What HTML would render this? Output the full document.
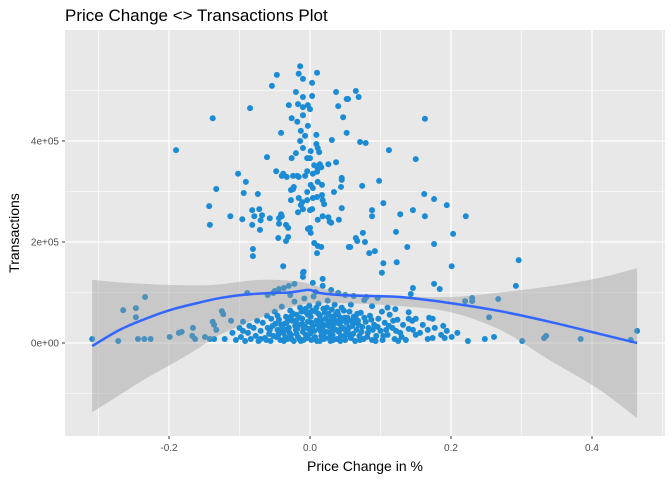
<!DOCTYPE html>
<html><head><meta charset="utf-8">
<style>
html,body{margin:0;padding:0;background:#fff;}
svg text{font-family:"Liberation Sans",sans-serif;}
</style></head>
<body>
<svg id="chart" width="672" height="480" xmlns="http://www.w3.org/2000/svg">
<text x="65" y="21" font-size="17" fill="#000">Price Change &lt;&gt; Transactions Plot</text>
<rect x="65" y="30" width="600" height="406" fill="#e8e8e8"/>
<g id="grid"></g>
<g id="pts"></g>
<g id="band"></g>
<g id="line"></g>
<g id="axes"></g>
<text x="365" y="471" font-size="14" text-anchor="middle" fill="#000">Price Change in %</text>
<text transform="translate(19,233) rotate(-90)" font-size="14" text-anchor="middle" fill="#000">Transactions</text>
</svg>
<script>
const xTicks=[-0.2,0,0.2,0.4];
const xTickLabels=["-0.2","0.0","0.2","0.4"];
const xMinor=[-0.3,-0.1,0.1,0.3,0.5];
const yTicks=[0,200000,400000];
const yTickLabels=["0e+00","2e+05","4e+05"];
const yMinor=[-100000,100000,300000,500000];
// scatter points: [price change, transactions in thousands]
const pointX=[];
const pointY=[];
const pointsK=[
[-0.014,548],[0.010,535],[-0.047,531],[-0.016,533],[-0.010,523],[0.003,515],[-0.054,509],[-0.020,497],[-0.010,487],[0.003,489],
[0.037,497],[0.052,483],[-0.030,471],[-0.017,473],[-0.010,467],[-0.003,471],[0,463],[0.040,469],[-0.085,465],[-0.138,445],
[-0.026,445],[-0.010,451],[-0.018,438],[0.047,447],[-0.003,430],[0.052,416],[-0.041,416],[-0.013,420],[-0.007,410],[0.009,412],
[-0.014,400],[0.031,402],[0.009,394],[0.011,386],[0.013,378],[-0.190,382],[-0.010,386],[0.001,380],[-0.020,376],[-0.026,366],
[-0.061,368],[-0.004,366],[0,366],[0.037,358],[0.026,354],[0.014,354],[0.016,348],[0.006,352],[-0.048,340],[-0.102,335],
[-0.038,335],[-0.040,331],[-0.033,329],[-0.024,331],[-0.016,329],[-0.018,331],[-0.004,340],[0.004,335],[0.010,339],[0.011,345],
[-0.007,331],[0.045,327],[0.045,323],[-0.091,319],[-0.133,305],[-0.094,297],[-0.074,295],[-0.023,309],[-0.024,305],[-0.027,303],
[0.011,319],[0.017,313],[0.004,307],[0.001,313],[-0.004,299],[0.034,299],[0.044,309],[-0.027,283],[-0.016,287],[-0.011,279],
[-0.004,283],[0.004,287],[0.010,289],[0.017,293],[0.018,283],[0.020,275],[-0.143,271],[-0.013,273],[-0.010,265],[-0.017,259],
[0,263],[0.003,265],[0.045,267],[-0.082,263],[-0.072,265],[-0.113,251],[-0.096,245],[-0.079,251],[-0.068,253],[-0.070,243],
[-0.057,247],[-0.041,255],[-0.040,251],[-0.044,247],[-0.142,234],[-0.082,234],[-0.071,224],[-0.044,236],[-0.034,234],[-0.031,228],
[0.018,251],[0.026,249],[0.028,240],[0.011,244],[0.041,244],[-0.003,226],[0.001,218],[0,228],[-0.045,208],[-0.031,210],
[-0.034,202],[0.006,198],[0.011,192],[0.016,190],[0.055,190],[-0.081,186],[-0.081,172],[0.010,178],[-0.038,152],[-0.009,141],
[0.065,499],[0.069,487],[0.054,483],[0.163,444],[0.071,398],[0.079,396],[0.112,382],[0.150,364],[0.098,321],[0.074,311],
[0.162,295],[0.176,285],[0.194,273],[0.104,277],[0.088,263],[0.088,251],[0.128,255],[0.146,263],[0.163,251],[0.221,251],
[0.030,238],[0.122,220],[0.203,216],[0.075,218],[0.065,208],[0.067,202],[0.078,200],[0.057,190],[0.176,196],[0.138,190],
[0.084,178],[0.092,182],[0.104,158],[0.102,139],[0.123,160],[0.201,152],[0.296,164],
[0.176,117],[0.184,107],[0.292,113],[0.146,109],[0.143,97],[0.220,83],[0.230,89],[0.230,83],[0.267,87],[0.077,85],
[0.088,73],[0.121,67],[0.140,61],[0.169,50],[0.174,48],[0.150,48],[0.145,44],[0.254,51],[0.189,34],[0.177,30],
[0.167,26],[0.146,26],[0.156,20],[0.194,24],[0.186,16],[0.209,20],[0.201,12],[0.191,10],[0.174,10],[0.167,8],
[0.224,4],[0.248,8],[0.261,12],[0.301,4],[0.332,10],[0.335,14],[0.384,8],[0.455,6],[0.464,24],
[-0.309,8],[-0.272,4],[-0.265,65],[-0.247,69],[-0.247,51],[-0.234,91],[-0.244,8],[-0.235,8],[-0.226,8],[-0.199,12],
[-0.186,20],[-0.182,22],[-0.166,30],[-0.167,14],[-0.163,8],[-0.149,12],[-0.142,8],[-0.136,8],[-0.125,63],[-0.123,57],
[-0.136,36],[-0.133,26],[-0.138,42],[-0.112,44],[-0.121,8],[-0.095,42],[-0.089,99],
[-0.050,103],[-0.044,107],[-0.037,109],[-0.030,113],[-0.022,117],[-0.010,139],[-0.010,131],[0.018,127],[0.018,113],[0.004,119],
[-0.060,95],[-0.052,99],[0.030,105],[0.040,99],[0.050,95],[0.062,93],[0.080,91],[0.096,89],[-0.028,95],[0.008,101],
[-0.105,6],[-0.098,12],[-0.092,4],[-0.088,20],[-0.084,8],[-0.080,30],[-0.077,14],[-0.073,4],[-0.070,24],[-0.067,40],
[-0.064,10],[-0.061,54],[-0.058,18],[-0.056,4],[-0.053,34],[-0.050,62],[-0.048,12],[-0.046,26],[-0.044,46],[-0.042,6],
[-0.040,72],[-0.038,20],[-0.036,38],[-0.034,52],[-0.032,8],[-0.030,30],[-0.028,64],[-0.027,16],[-0.025,44],[-0.023,4],
[-0.022,82],[-0.020,26],[-0.019,56],[-0.017,12],[-0.016,36],[-0.014,70],[-0.013,4],[-0.011,48],[-0.010,22],[-0.008,88],
[-0.007,32],[-0.005,60],[-0.004,10],[-0.003,42],[-0.001,74],[0,18],[0.001,52],[0.002,6],[0.004,34],[0.005,92],
[0.006,24],[0.008,62],[0.009,44],[0.010,4],[0.012,78],[0.013,28],[0.014,54],[0.016,14],[0.017,38],[0.019,68],
[0.020,8],[0.022,48],[0.023,22],[0.025,84],[0.026,58],[0.028,32],[0.029,4],[0.031,66],[0.032,16],[0.034,46],
[0.035,76],[0.037,26],[0.038,8],[0.040,56],[0.042,38],[0.044,14],[0.045,70],[0.047,30],[0.049,50],[0.050,6],
[0.052,40],[0.054,20],[0.056,62],[0.058,10],[0.060,34],[0.062,52],[0.064,4],[0.066,26],[0.068,44],[0.070,14],
[0.072,60],[0.074,32],[0.076,8],[0.079,42],[0.082,20],[0.085,54],[0.088,6],[0.091,36],[0.094,14],[0.097,48],
[0.100,24],[0.103,6],[0.106,40],[0.110,16],[0.113,56],[0.117,30],[0.120,8],[0.124,46],[0.128,20],[0.132,36],
[0.136,6],[0.140,28],[0.102,62],[0.110,70],[0.125,4],[0.058,76],[-0.060,30],[-0.075,44],[-0.086,34],[-0.095,24],
[-0.015,50],[-0.006,16],[0.003,64],[0.011,36],[0.021,10],[0.027,42],[0.036,56],[0.043,4],[0.051,24],[0.061,18],
[-0.031,46],[-0.024,58],[-0.018,28],[-0.009,6],[0.007,12],[0.015,46],[0.024,70],[0.033,36],[0.041,22],[0.048,64],
[-0.045,16],[-0.039,28],[-0.033,40],[-0.026,8],[-0.021,34],[-0.012,62],[-0.002,28],[0.018,30],[0.030,52],[0.046,44],
[0.055,30],[0.065,48],[0.073,22],[0.083,30],[0.093,4],[0.108,26],[0.118,44],[0.130,12],[0.150,16],[0.160,36],
[-0.110,20],[-0.100,30],[-0.070,8],[-0.055,48],[-0.035,12],[0.015,24],[0.039,40],[0.069,36],[0.087,46],[0.140,48],
[-0.062,6],[-0.057,26],[-0.049,38],[-0.043,22],[-0.037,4],[-0.029,20],[-0.020,44],[-0.015,8],[-0.009,30],[-0.003,56],
[0.002,40],[0.006,8],[0.012,58],[0.019,16],[0.023,36],[0.028,20],[0.033,6],[0.039,62],[0.044,28],[0.053,50],
[0.057,14],[0.063,40],[0.071,6],[0.077,50],[0.081,12],[0.089,26],[0.096,32],[0.104,14],[0.112,34],[0.122,24],
[-0.052,14],[-0.046,54],[-0.041,36],[-0.035,26],[-0.027,52],[-0.019,18],[-0.011,38],[-0.006,68],[0,60],[0.004,24],
[0.009,70],[0.014,4],[0.021,60],[0.027,10],[0.032,26],[0.036,44],[0.043,50],[0.049,14],[0.059,44],[0.067,58]
];
for(const p of pointsK){pointX.push(p[0]);pointY.push(p[1]*1000);}
const smoothX=[-0.309,-0.270,-0.235,-0.199,-0.160,-0.128,-0.090,-0.057,-0.030,-0.014,0,0.014,0.043,0.085,0.128,0.199,0.270,0.340,0.411,0.464];
const smoothY=[-6000,26000,47000,65000,79000,89000,96000,99000,100000,103000,105000,99000,95000,93000,91000,79000,63000,42000,18000,0];
const bandX=[-0.309,-0.270,-0.235,-0.199,-0.160,-0.128,-0.071,-0.014,0.043,0.128,0.199,0.270,0.340,0.411,0.464];
const bandUpper=[125000,120000,117000,115000,114000,116000,125000,121000,101000,93000,91000,100000,112000,129000,148000];
const bandLower=[-137000,-103000,-72000,-44000,-12000,16000,50000,75000,79000,73000,61000,26000,-34000,-93000,-149000];

const X=v=>310+v*705;
const Y=v=>343-v/1980;
const NS="http://www.w3.org/2000/svg";
function mk(tag,parent,attrs){const e=document.createElementNS(NS,tag);for(const k in attrs)e.setAttribute(k,attrs[k]);parent.appendChild(e);return e;}
function smoothPath(px,py,move){let s=move?'M'+px[0]+','+py[0]:'L'+px[0]+','+py[0];
for(let i=0;i<px.length-1;i++){const i0=Math.max(0,i-1),i3=Math.min(px.length-1,i+2);
const c1x=px[i]+(px[i+1]-px[i0])/6,c1y=py[i]+(py[i+1]-py[i0])/6;
const c2x=px[i+1]-(px[i3]-px[i])/6,c2y=py[i+1]-(py[i3]-py[i])/6;
s+='C'+c1x+','+c1y+' '+c2x+','+c2y+' '+px[i+1]+','+py[i+1];}return s;}
const grid=document.getElementById('grid');
for(const v of yMinor){const l=mk('line',grid,{x1:65,x2:665,y1:Y(v),y2:Y(v),stroke:'#fff','stroke-width':0.6});

}
for(const v of xMinor){const l=mk('line',grid,{y1:30,y2:436,x1:X(v),x2:X(v),stroke:'#fff','stroke-width':0.6});

}
for(const v of yTicks){const l=mk('line',grid,{x1:65,x2:665,y1:Y(v),y2:Y(v),stroke:'#fff','stroke-width':1.2});

}
for(const v of xTicks){const l=mk('line',grid,{y1:30,y2:436,x1:X(v),x2:X(v),stroke:'#fff','stroke-width':1.2});

}
const pg=document.getElementById('pts');
pointX.forEach((x,i)=>{const c=mk('circle',pg,{cx:X(x),cy:Y(pointY[i]),r:3,fill:'#1a8bd4'});

});
const bx=bandX.map(X);
let d=smoothPath(bx,bandUpper.map(Y),true);
d+=smoothPath(bx.slice().reverse(),bandLower.map(Y).reverse(),false);
const band=mk('path',document.getElementById('band'),{d:d+'Z',fill:'#999999','fill-opacity':0.4});


const ld=smoothPath(smoothX.map(X),smoothY.map(Y),true);
const ln=mk('path',document.getElementById('line'),{d:ld,fill:'none',stroke:'#3366ff','stroke-width':2.5,'stroke-linejoin':'round'});


const ax=document.getElementById('axes');
xTicks.forEach((v,i)=>{mk('line',ax,{x1:X(v),x2:X(v),y1:436,y2:439,stroke:'#333'});
const t=mk('text',ax,{x:X(v),y:451,'font-size':10,'text-anchor':'middle',fill:'#4d4d4d'});t.textContent=xTickLabels[i];

});
yTicks.forEach((v,i)=>{mk('line',ax,{x1:62,x2:65,y1:Y(v),y2:Y(v),stroke:'#333'});
const t=mk('text',ax,{x:59,y:Y(v)+3.5,'font-size':10,'text-anchor':'end',fill:'#4d4d4d'});t.textContent=yTickLabels[i];

});
</script>
</body></html>
